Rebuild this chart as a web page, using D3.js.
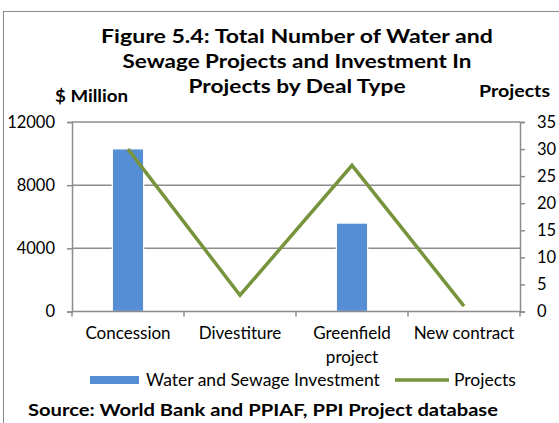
<!DOCTYPE html>
<html>
<head>
<meta charset="utf-8">
<script src="https://cdn.jsdelivr.net/npm/d3@7/dist/d3.min.js"></script>
<style>
  body { margin: 0; background: #fff; }
  svg { display: block; font-family: Lato, "Open Sans", sans-serif; }
</style>
</head>
<body>
<svg id="chart" width="559" height="423"></svg>
<script>
// chart data
const categories = ["Concession", "Divestiture", "Greenfield project", "New contract"];
const investment = [10300, 0, 5600, 0]; // $ Million
const projects = [30, 3, 27, 1];
const leftTicks = [0, 4000, 8000, 12000];
const rightTicks = [0, 5, 10, 15, 20, 25, 30, 35];
const titleLines = [
  "Figure 5.4: Total Number of Water and",
  "Sewage Projects and Investment In",
  "Projects by Deal Type"
];
// measured widths of the title lines in the figure
const titleWidths = [392, 349, 217];

const svg = d3.select("#chart");
const axisColor = "#8c8c8c";
const barColor = "#558ed5";
const lineColor = "#77933c";

const plot = { left: 72, right: 520, top: 122, bottom: 311.5 };

// outer frame (right and bottom edges run off the picture)
svg.append("rect")
  .attr("x", 3.5).attr("y", 11.5)
  .attr("width", 600).attr("height", 500)
  .attr("fill", "none")
  .attr("stroke", "#8a8a8a")
  .attr("stroke-width", 1);

const x = d3.scaleBand().domain(categories).range([plot.left, plot.right]);
const yLeft = d3.scaleLinear().domain([0, 12000]).range([plot.bottom, plot.top]);
const yRight = d3.scaleLinear().domain([0, 35]).range([plot.bottom, plot.top]);

// gridlines from the left axis
svg.append("g")
  .selectAll("line")
  .data(leftTicks.filter(d => d > 0))
  .join("line")
  .attr("x1", plot.left).attr("x2", plot.right)
  .attr("y1", d => yLeft(d)).attr("y2", d => yLeft(d))
  .attr("stroke", axisColor).attr("stroke-width", 1.5);

// bars
const barW = x.bandwidth() * 0.28;
svg.append("g")
  .selectAll("rect")
  .data(categories.map((c, i) => ({ c, v: investment[i] })).filter(d => d.v > 0))
  .join("rect")
  .attr("x", d => x(d.c) + x.bandwidth() / 2 - barW / 2)
  .attr("y", d => yLeft(d.v))
  .attr("width", barW)
  .attr("height", d => plot.bottom - yLeft(d.v))
  .attr("fill", barColor)
  .attr("stroke", "#fff")
  .attr("stroke-width", 1.2);

// axes
const leftAxis = d3.axisLeft(yLeft).tickValues(leftTicks).tickFormat(d3.format("d"))
  .tickSize(5).tickPadding(12);
const rightAxis = d3.axisRight(yRight).tickValues(rightTicks).tickFormat(d3.format("d"))
  .tickSize(5).tickPadding(12);
const bottomAxis = d3.axisBottom(x).tickSize(0).tickFormat("");

function styleAxis(g) {
  g.select(".domain").attr("stroke", axisColor).attr("stroke-width", 1.5);
  g.selectAll(".tick line").attr("stroke", axisColor).attr("stroke-width", 1.5);
  g.selectAll(".tick text")
    .attr("fill", "#000")
    .style("font-size", "16.5px")
    .style("font-family", "Lato, sans-serif");
}

svg.append("g").attr("transform", `translate(${plot.left},0)`).call(leftAxis).call(styleAxis);
svg.append("g").attr("transform", `translate(${plot.right},0)`).call(rightAxis).call(styleAxis);
const xg = svg.append("g").attr("transform", `translate(0,${plot.bottom})`).call(bottomAxis).call(styleAxis);
xg.select(".domain").attr("d", `M${plot.left},0H${plot.right}`);

// band boundary ticks below the x axis
const bounds = categories.map(c => x(c)).concat([plot.right]);
svg.append("g")
  .selectAll("line")
  .data(bounds)
  .join("line")
  .attr("x1", d => d).attr("x2", d => d)
  .attr("y1", plot.bottom).attr("y2", plot.bottom + 5)
  .attr("stroke", axisColor).attr("stroke-width", 1.5);

// category labels
const catLabels = svg.append("g")
  .selectAll("text")
  .data(categories)
  .join("text")
  .attr("x", d => x(d) + x.bandwidth() / 2)
  .attr("y", 339)
  .attr("text-anchor", "middle")
  .style("font-size", "17px");
catLabels.each(function (d) {
  const t = d3.select(this);
  const parts = d === "Greenfield project" ? ["Greenfield", "project"] : [d];
  parts.forEach((p, i) => {
    t.append("tspan")
      .attr("x", x(d) + x.bandwidth() / 2)
      .attr("dy", i === 0 ? 0 : 24)
      .text(p);
  });
});

// projects line
const line = d3.line()
  .x((d, i) => x(categories[i]) + x.bandwidth() / 2)
  .y(d => yRight(d));
svg.append("path")
  .datum(projects)
  .attr("d", line)
  .attr("fill", "none")
  .attr("stroke", lineColor)
  .attr("stroke-width", 3.5)
  .attr("stroke-linejoin", "miter");

// title
svg.append("g")
  .selectAll("text")
  .data(titleLines)
  .join("text")
  .attr("x", 297)
  .attr("y", (d, i) => 43 + i * 25)
  .attr("text-anchor", "middle")
  .attr("textLength", (d, i) => titleWidths[i])
  .attr("lengthAdjust", "spacingAndGlyphs")
  .style("font-size", "19.5px")
  .style("font-weight", "bold")
  .text(d => d);

// axis titles
svg.append("text")
  .attr("x", 55).attr("y", 102)
  .attr("textLength", 73).attr("lengthAdjust", "spacingAndGlyphs")
  .style("font-size", "17px").style("font-weight", "bold")
  .text("$ Million");
svg.append("text")
  .attr("x", 479).attr("y", 97)
  .attr("textLength", 71).attr("lengthAdjust", "spacingAndGlyphs")
  .style("font-size", "17px").style("font-weight", "bold")
  .text("Projects");

// legend
const legend = svg.append("g");
legend.append("rect")
  .attr("x", 90).attr("y", 376)
  .attr("width", 49).attr("height", 8)
  .attr("fill", barColor);
legend.append("text")
  .attr("x", 146).attr("y", 386)
  .style("font-size", "17.5px")
  .text("Water and Sewage Investment");
legend.append("line")
  .attr("x1", 395).attr("x2", 449)
  .attr("y1", 380).attr("y2", 380)
  .attr("stroke", lineColor).attr("stroke-width", 3.5);
legend.append("text")
  .attr("x", 454).attr("y", 386)
  .style("font-size", "17.5px")
  .text("Projects");

// source note
svg.append("text")
  .attr("x", 28).attr("y", 416)
  .attr("textLength", 470).attr("lengthAdjust", "spacingAndGlyphs")
  .style("font-size", "17px").style("font-weight", "bold")
  .text("Source: World Bank and PPIAF, PPI Project database");
</script>
</body>
</html>
